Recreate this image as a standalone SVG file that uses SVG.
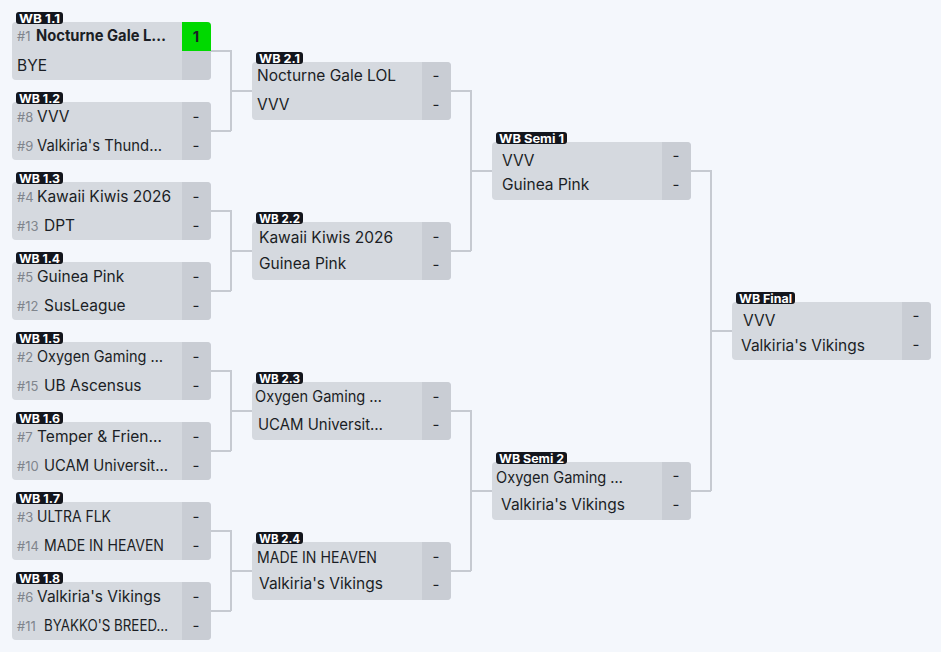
<svg xmlns="http://www.w3.org/2000/svg" width="941" height="652" viewBox="0 0 941 652">
<defs>
<style>
.bg{fill:#f4f7fc}
.box{fill:#d5d9df}
.sc{fill:#c9cdd4}
.win{fill:#00d900}
.pill{fill:#13161d}
.pt{font-family:Inter,"Liberation Sans",sans-serif;font-size:12px;font-weight:700;fill:#fff}
.t{font-family:Inter,"Liberation Sans",sans-serif;font-size:15.5px;fill:#1b1e25}
.tb{font-weight:700}
.seed{font-family:Inter,"Liberation Sans",sans-serif;font-size:13px;fill:#80858d}
.s{font-family:Inter,"Liberation Sans",sans-serif;font-size:15px;fill:#1b1e25;text-anchor:middle}
.c{fill:none;stroke:#c6cad1;stroke-width:2}
</style>
</defs>
<rect class="bg" x="0" y="0" width="941" height="652"/>
<g id="connectors">
<path class="c" d="M211 51H231V131M211 131H231M231 91H252"/>
<path class="c" d="M211 211H231V291M211 291H231M231 251H252"/>
<path class="c" d="M211 371H231V451M211 451H231M231 411H252"/>
<path class="c" d="M211 531H231V611M211 611H231M231 571H252"/>
<path class="c" d="M451 91H471V251M451 251H471M471 171H492"/>
<path class="c" d="M451 411H471V571M451 571H471M471 491H492"/>
<path class="c" d="M691 171H711V491M691 491H711M711 331H732"/>
</g>
<g id="wb1-1">
<rect class="box" x="12" y="22" width="199" height="58" rx="4"/>
<path class="sc" d="M182 22H207A4 4 0 0 1 211 26V76A4 4 0 0 1 207 80H182Z"/>
<path class="win" d="M182 22H207A4 4 0 0 1 211 26V51H182Z"/>
<rect class="pill" x="16" y="12" width="47" height="12" rx="3"/>
<text class="pt" x="19" y="22.5" textLength="41" lengthAdjust="spacingAndGlyphs">WB 1.1</text>
<text class="seed" x="17" y="41">#1</text>
<text class="t tb" x="36" y="41" textLength="130" lengthAdjust="spacingAndGlyphs">Nocturne Gale L…</text>
<text class="t" x="17" y="70.5">BYE</text>
<text class="s tb" x="196" y="41.5">1</text>
</g>
<g id="wb1-2">
<rect class="box" x="12" y="102" width="199" height="58" rx="4"/>
<path class="sc" d="M182 102H207A4 4 0 0 1 211 106V156A4 4 0 0 1 207 160H182Z"/>
<rect class="pill" x="16" y="92" width="47" height="12" rx="3"/>
<text class="pt" x="19" y="102.5" textLength="41" lengthAdjust="spacingAndGlyphs">WB 1.2</text>
<text class="seed" x="17" y="121.5">#8</text>
<text class="t" x="37" y="121.5">VVV</text>
<text class="seed" x="17" y="150.5">#9</text>
<text class="t" x="37" y="150.5" textLength="125" lengthAdjust="spacingAndGlyphs">Valkiria's Thund…</text>
<text class="s" x="196" y="122">-</text><text class="s" x="196" y="151">-</text>
</g>
<g id="wb1-3">
<rect class="box" x="12" y="182" width="199" height="58" rx="4"/>
<path class="sc" d="M182 182H207A4 4 0 0 1 211 186V236A4 4 0 0 1 207 240H182Z"/>
<rect class="pill" x="16" y="172" width="47" height="12" rx="3"/>
<text class="pt" x="19" y="182.5" textLength="41" lengthAdjust="spacingAndGlyphs">WB 1.3</text>
<text class="seed" x="17" y="201.5">#4</text>
<text class="t" x="37" y="201.5">Kawaii Kiwis 2026</text>
<text class="seed" x="17" y="230.5">#13</text>
<text class="t" x="44" y="230.5">DPT</text>
<text class="s" x="196" y="202">-</text><text class="s" x="196" y="231">-</text>
</g>
<g id="wb1-4">
<rect class="box" x="12" y="262" width="199" height="58" rx="4"/>
<path class="sc" d="M182 262H207A4 4 0 0 1 211 266V316A4 4 0 0 1 207 320H182Z"/>
<rect class="pill" x="16" y="252" width="47" height="12" rx="3"/>
<text class="pt" x="19" y="262.5" textLength="41" lengthAdjust="spacingAndGlyphs">WB 1.4</text>
<text class="seed" x="17" y="281.5">#5</text>
<text class="t" x="37" y="281.5">Guinea Pink</text>
<text class="seed" x="17" y="310.5">#12</text>
<text class="t" x="44" y="310.5">SusLeague</text>
<text class="s" x="196" y="282">-</text><text class="s" x="196" y="311">-</text>
</g>
<g id="wb1-5">
<rect class="box" x="12" y="342" width="199" height="58" rx="4"/>
<path class="sc" d="M182 342H207A4 4 0 0 1 211 346V396A4 4 0 0 1 207 400H182Z"/>
<rect class="pill" x="16" y="332" width="47" height="12" rx="3"/>
<text class="pt" x="19" y="342.5" textLength="41" lengthAdjust="spacingAndGlyphs">WB 1.5</text>
<text class="seed" x="17" y="361.5">#2</text>
<text class="t" x="37" y="361.5" textLength="126" lengthAdjust="spacingAndGlyphs">Oxygen Gaming …</text>
<text class="seed" x="17" y="390.5">#15</text>
<text class="t" x="44" y="390.5">UB Ascensus</text>
<text class="s" x="196" y="362">-</text><text class="s" x="196" y="391">-</text>
</g>
<g id="wb1-6">
<rect class="box" x="12" y="422" width="199" height="58" rx="4"/>
<path class="sc" d="M182 422H207A4 4 0 0 1 211 426V476A4 4 0 0 1 207 480H182Z"/>
<rect class="pill" x="16" y="412" width="47" height="12" rx="3"/>
<text class="pt" x="19" y="422.5" textLength="41" lengthAdjust="spacingAndGlyphs">WB 1.6</text>
<text class="seed" x="17" y="441.5">#7</text>
<text class="t" x="37" y="441.5" textLength="125" lengthAdjust="spacingAndGlyphs">Temper &amp; Frien…</text>
<text class="seed" x="17" y="470.5">#10</text>
<text class="t" x="44" y="470.5" textLength="124" lengthAdjust="spacingAndGlyphs">UCAM Universit…</text>
<text class="s" x="196" y="442">-</text><text class="s" x="196" y="471">-</text>
</g>
<g id="wb1-7">
<rect class="box" x="12" y="502" width="199" height="58" rx="4"/>
<path class="sc" d="M182 502H207A4 4 0 0 1 211 506V556A4 4 0 0 1 207 560H182Z"/>
<rect class="pill" x="16" y="492" width="47" height="12" rx="3"/>
<text class="pt" x="19" y="502.5" textLength="41" lengthAdjust="spacingAndGlyphs">WB 1.7</text>
<text class="seed" x="17" y="521.5">#3</text>
<text class="t" x="37" y="521.5" textLength="74" lengthAdjust="spacingAndGlyphs">ULTRA FLK</text>
<text class="seed" x="17" y="550.5">#14</text>
<text class="t" x="44" y="550.5" textLength="120" lengthAdjust="spacingAndGlyphs">MADE IN HEAVEN</text>
<text class="s" x="196" y="522">-</text><text class="s" x="196" y="551">-</text>
</g>
<g id="wb1-8">
<rect class="box" x="12" y="582" width="199" height="58" rx="4"/>
<path class="sc" d="M182 582H207A4 4 0 0 1 211 586V636A4 4 0 0 1 207 640H182Z"/>
<rect class="pill" x="16" y="572" width="47" height="12" rx="3"/>
<text class="pt" x="19" y="582.5" textLength="41" lengthAdjust="spacingAndGlyphs">WB 1.8</text>
<text class="seed" x="17" y="601.5">#6</text>
<text class="t" x="37" y="601.5">Valkiria's Vikings</text>
<text class="seed" x="17" y="630.5">#11</text>
<text class="t" x="44" y="630.5" textLength="124" lengthAdjust="spacingAndGlyphs">BYAKKO'S BREED…</text>
<text class="s" x="196" y="602">-</text><text class="s" x="196" y="631">-</text>
</g>
<g id="wb2-1">
<rect class="box" x="252" y="62" width="199" height="58" rx="4"/>
<path class="sc" d="M422 62H447A4 4 0 0 1 451 66V116A4 4 0 0 1 447 120H422Z"/>
<rect class="pill" x="256" y="52" width="47" height="12" rx="3"/>
<text class="pt" x="259" y="62.5" textLength="41" lengthAdjust="spacingAndGlyphs">WB 2.1</text>
<text class="t" x="257" y="80.5">Nocturne Gale LOL</text>
<text class="t" x="257" y="109.5">VVV</text>
<text class="s" x="436" y="81">-</text><text class="s" x="436" y="110">-</text>
</g>
<g id="wb2-2">
<rect class="box" x="252" y="222" width="199" height="58" rx="4"/>
<path class="sc" d="M422 222H447A4 4 0 0 1 451 226V276A4 4 0 0 1 447 280H422Z"/>
<rect class="pill" x="256" y="212" width="47" height="12" rx="3"/>
<text class="pt" x="259" y="222.5" textLength="41" lengthAdjust="spacingAndGlyphs">WB 2.2</text>
<text class="t" x="259" y="242.5">Kawaii Kiwis 2026</text>
<text class="t" x="259" y="268.5">Guinea Pink</text>
<text class="s" x="436" y="242">-</text><text class="s" x="436" y="270">-</text>
</g>
<g id="wb2-3">
<rect class="box" x="252" y="382" width="199" height="58" rx="4"/>
<path class="sc" d="M422 382H447A4 4 0 0 1 451 386V436A4 4 0 0 1 447 440H422Z"/>
<rect class="pill" x="256" y="372" width="47" height="12" rx="3"/>
<text class="pt" x="259" y="382.5" textLength="41" lengthAdjust="spacingAndGlyphs">WB 2.3</text>
<text class="t" x="255" y="401.5" textLength="127" lengthAdjust="spacingAndGlyphs">Oxygen Gaming …</text>
<text class="t" x="258" y="429.5" textLength="125" lengthAdjust="spacingAndGlyphs">UCAM Universit…</text>
<text class="s" x="436" y="402">-</text><text class="s" x="436" y="430">-</text>
</g>
<g id="wb2-4">
<rect class="box" x="252" y="542" width="199" height="58" rx="4"/>
<path class="sc" d="M422 542H447A4 4 0 0 1 451 546V596A4 4 0 0 1 447 600H422Z"/>
<rect class="pill" x="256" y="532" width="47" height="12" rx="3"/>
<text class="pt" x="259" y="542.5" textLength="41" lengthAdjust="spacingAndGlyphs">WB 2.4</text>
<text class="t" x="257" y="562.5" textLength="120" lengthAdjust="spacingAndGlyphs">MADE IN HEAVEN</text>
<text class="t" x="259" y="588.5">Valkiria's Vikings</text>
<text class="s" x="436" y="562">-</text><text class="s" x="436" y="590">-</text>
</g>
<g id="wb-semi-1">
<rect class="box" x="492" y="142" width="199" height="58" rx="4"/>
<path class="sc" d="M662 142H687A4 4 0 0 1 691 146V196A4 4 0 0 1 687 200H662Z"/>
<rect class="pill" x="496" y="132" width="71" height="12" rx="3"/>
<text class="pt" x="499" y="142.5" textLength="65" lengthAdjust="spacingAndGlyphs">WB Semi 1</text>
<text class="t" x="502" y="165.5">VVV</text>
<text class="t" x="502" y="189.5">Guinea Pink</text>
<text class="s" x="676" y="161">-</text><text class="s" x="676" y="190">-</text>
</g>
<g id="wb-semi-2">
<rect class="box" x="492" y="462" width="199" height="58" rx="4"/>
<path class="sc" d="M662 462H687A4 4 0 0 1 691 466V516A4 4 0 0 1 687 520H662Z"/>
<rect class="pill" x="496" y="452" width="71" height="12" rx="3"/>
<text class="pt" x="499" y="462.5" textLength="65" lengthAdjust="spacingAndGlyphs">WB Semi 2</text>
<text class="t" x="496" y="482.5" textLength="127" lengthAdjust="spacingAndGlyphs">Oxygen Gaming …</text>
<text class="t" x="501" y="509.5">Valkiria's Vikings</text>
<text class="s" x="676" y="481">-</text><text class="s" x="676" y="510">-</text>
</g>
<g id="wb-final">
<rect class="box" x="732" y="302" width="199" height="58" rx="4"/>
<path class="sc" d="M902 302H927A4 4 0 0 1 931 306V356A4 4 0 0 1 927 360H902Z"/>
<rect class="pill" x="736" y="292" width="59" height="12" rx="3"/>
<text class="pt" x="739" y="302.5" textLength="53" lengthAdjust="spacingAndGlyphs">WB Final</text>
<text class="t" x="743" y="325.5">VVV</text>
<text class="t" x="741" y="350.5">Valkiria's Vikings</text>
<text class="s" x="916" y="321">-</text><text class="s" x="916" y="350">-</text>
</g>
</svg>
